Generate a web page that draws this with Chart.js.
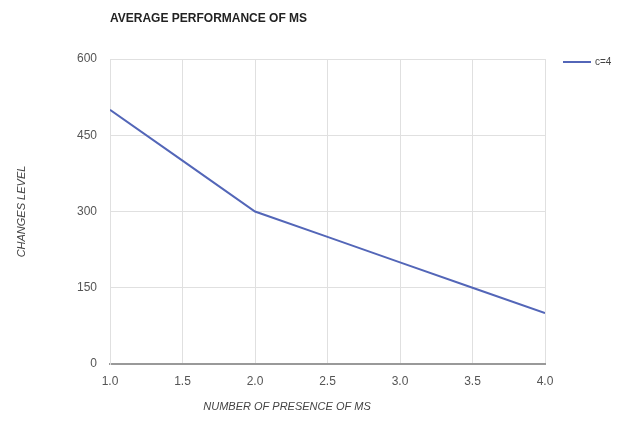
<!DOCTYPE html>
<html><head><meta charset="utf-8">
<script src="https://cdn.jsdelivr.net/npm/chart.js@4/dist/chart.umd.min.js"></script>
<style>html,body{margin:0;padding:0;background:#fff}#w{width:625px;height:432px}</style>
</head><body><div id="w"><canvas id="c" width="625" height="432"></canvas></div>
<script>
const xValues = [1.0, 1.5, 2.0, 2.5, 3.0, 3.5, 4.0];
const seriesC4 = [500, 400, 300, 250, 200, 150, 100];
const seriesLabel = 'c=4';
const yTicks = [0, 150, 300, 450, 600];
const chartTitle = 'AVERAGE PERFORMANCE OF MS';
const xTitle = 'NUMBER OF PRESENCE OF MS';
const yTitle = 'CHANGES LEVEL';

const FONT = '"Liberation Sans", Arial, sans-serif';

const textPlugin = {
  id: 'texts',
  afterDraw(chart) {
    const ctx = chart.ctx, ca = chart.chartArea;
    ctx.save();
    ctx.fillStyle = '#222';
    ctx.font = 'bold 12px ' + FONT;
    ctx.textBaseline = 'middle';
    ctx.textAlign = 'left';
    ctx.fillText(chartTitle, 110, 19);
    ctx.fillStyle = '#444';
    ctx.font = 'italic 11px ' + FONT;
    ctx.textAlign = 'center';
    ctx.fillText(xTitle, 287, 407);
    ctx.translate(22, (ca.top + ca.bottom) / 2);
    ctx.rotate(-Math.PI / 2);
    ctx.fillText(yTitle, 0, 0);
    ctx.restore();
    // legend
    const ds = chart.data.datasets[0];
    ctx.save();
    ctx.strokeStyle = ds.borderColor;
    ctx.lineWidth = 2;
    ctx.beginPath();
    ctx.moveTo(563, 62); ctx.lineTo(591, 62);
    ctx.stroke();
    ctx.fillStyle = '#444';
    ctx.font = '10px ' + FONT;
    ctx.textBaseline = 'middle';
    ctx.textAlign = 'left';
    ctx.fillText(ds.label, 595, 62);
    ctx.restore();
  }
};

new Chart(document.getElementById('c'), {
  type: 'line',
  data: {
    datasets: [{
      label: seriesLabel,
      data: xValues.map((x, i) => ({x, y: seriesC4[i]})),
      borderColor: '#5366b8',
      borderWidth: 2,
      pointRadius: 0,
      tension: 0,
      fill: false
    }]
  },
  options: {
    responsive: false,
    animation: false,
    layout: {padding: {top: 59, right: 80, left: 0, bottom: 0}},
    plugins: {legend: {display: false}, title: {display: false}, tooltip: {enabled: false}},
    scales: {
      x: {
        type: 'linear', min: 1, max: 4,
        afterFit: s => { s.height = 68; },
        afterBuildTicks: s => { s.ticks = xValues.map(v => ({value: v})); },
        ticks: {padding: 10, color: '#555', font: {family: FONT, size: 12},
          callback: v => Number(v).toFixed(1)},
        grid: {color: '#e0e0e0', drawTicks: false},
        border: {color: '#999', width: 2}
      },
      y: {
        min: 0, max: 600,
        afterFit: s => { s.width = 110; },
        afterBuildTicks: s => { s.ticks = yTicks.map(v => ({value: v})); },
        ticks: {padding: 13, color: '#555', font: {family: FONT, size: 12}},
        grid: {color: '#e0e0e0', drawTicks: false},
        border: {color: '#e0e0e0', width: 1}
      }
    }
  },
  plugins: [textPlugin]
});
</script></body></html>
